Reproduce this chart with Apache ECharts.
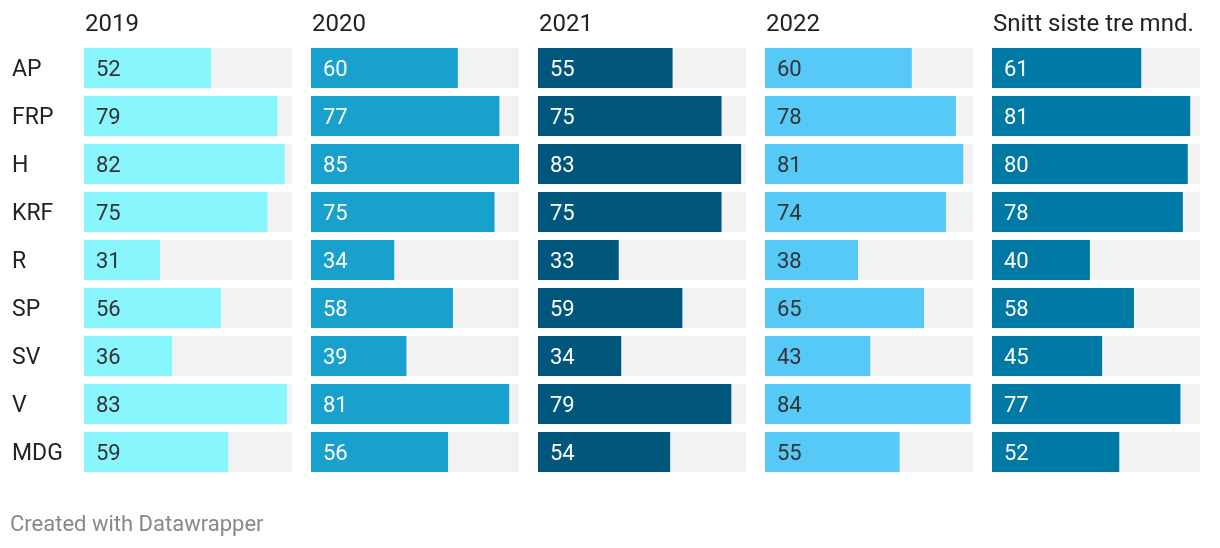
<!DOCTYPE html>
<html><head><meta charset="utf-8">
<script src="https://cdn.jsdelivr.net/npm/echarts@6/dist/echarts.min.js"></script>
<style>html,body{margin:0;padding:0;background:#fff}#c{width:1220px;height:548px}</style>
</head><body><div id="c"></div>
<script>
const parties = ["AP","FRP","H","KRF","R","SP","SV","V","MDG"];
const columns = ["2019","2020","2021","2022","Snitt siste tre mnd."];
const v2019 = [52,79,82,75,31,56,36,83,59];
const v2020 = [60,77,85,75,34,58,39,81,56];
const v2021 = [55,75,83,75,33,59,34,79,54];
const v2022 = [60,78,81,74,38,65,43,84,55];
const vSnitt = [61,81,80,78,40,58,45,77,52];
const seriesValues = [v2019,v2020,v2021,v2022,vSnitt];
const colors = ["#89f5fd","#18a1cd","#00567b","#57c9f7","#0079a5"];
const labelColors = ["#333333","#ffffff","#ffffff","#333333","#ffffff"];

const chart = echarts.init(document.getElementById('c'));
const font = 'Roboto, "Noto Sans", sans-serif';
const grids=[],xAxes=[],yAxes=[],series=[],graphics=[];
columns.forEach((col,i)=>{
  const left = 84 + i*227;
  grids.push({left:left, width:208, top:44, height:432});
  xAxes.push({gridIndex:i, type:'value', min:0, max:85, show:false});
  yAxes.push({gridIndex:i, type:'category', data:parties, inverse:true,
    axisLine:{show:false}, axisTick:{show:false}, splitLine:{show:false},
    axisLabel:{show:i===0, align:'left', margin:72, fontSize:23, color:'#222', fontFamily:font, verticalAlign:'top', lineHeight:4}});
  series.push({type:'bar', xAxisIndex:i, yAxisIndex:i, data:seriesValues[i], barWidth:40,
    itemStyle:{color:colors[i]}, showBackground:true, backgroundStyle:{color:'#f2f2f2'},
    label:{show:true, position:'insideLeft', distance:12, offset:[0,2], fontSize:22, color:labelColors[i], fontFamily:font},
    animation:false});
  graphics.push({type:'text', style:{x:left+1, y:25, verticalAlign:'middle', text:col, fontSize:24, fill:'#222', fontFamily:font}});
});
graphics.push({type:'text', style:{x:10, y:525, verticalAlign:'middle', text:'Created with Datawrapper', fontSize:22, fill:'#888', fontFamily:font}});
chart.setOption({animation:false, grid:grids, xAxis:xAxes, yAxis:yAxes, series:series, graphic:graphics});
</script></body></html>
